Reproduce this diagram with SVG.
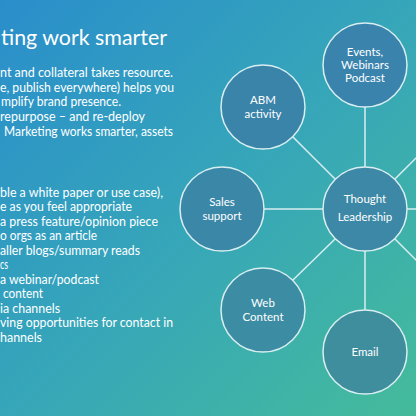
<svg xmlns="http://www.w3.org/2000/svg" width="416" height="416" viewBox="0 0 416 416">
<defs>
<linearGradient id="bg" x1="0" y1="0" x2="1" y2="1">
<stop offset="0" stop-color="#2a8ecb"/>
<stop offset="0.5" stop-color="#36a6b9"/>
<stop offset="1" stop-color="#45bb9b"/>
</linearGradient>
<style>
.body{font-family:Lato,"Noto Sans",sans-serif;font-size:12.8px;fill:#ffffff}
.title{font-family:Lato,"Noto Sans",sans-serif;font-size:22px;fill:#ffffff}
.node circle{stroke:#d8eef0;stroke-width:1.5}
.node text{font-family:Lato,"Noto Sans",sans-serif;font-size:11.5px;fill:#ffffff;text-anchor:middle}
.conn line{stroke:#d8eef0;stroke-width:1.5}
</style>
</defs>
<rect width="416" height="416" fill="url(#bg)"/>
<text class="title" x="1" y="45" textLength="166" lengthAdjust="spacingAndGlyphs">ting work smarter</text>
<g class="body">
<text x="0" y="77" textLength="173" lengthAdjust="spacingAndGlyphs">nt and collateral takes resource.</text>
<text x="0" y="91.5" textLength="174" lengthAdjust="spacingAndGlyphs">e, publish everywhere) helps you</text>
<text x="1" y="106" textLength="120" lengthAdjust="spacingAndGlyphs">mplify brand presence.</text>
<text x="0" y="120.5" textLength="145" lengthAdjust="spacingAndGlyphs">repurpose – and re-deploy</text>
<text x="4" y="135.5" textLength="169" lengthAdjust="spacingAndGlyphs">Marketing works smarter, assets</text>
<text x="0" y="196.5" textLength="163" lengthAdjust="spacingAndGlyphs">ble a white paper or use case),</text>
<text x="0" y="211" textLength="132" lengthAdjust="spacingAndGlyphs">e as you feel appropriate</text>
<text x="0" y="225.5" textLength="158" lengthAdjust="spacingAndGlyphs">a press feature/opinion piece</text>
<text x="0" y="240" textLength="97" lengthAdjust="spacingAndGlyphs">o orgs as an article</text>
<text x="0" y="254.5" textLength="140" lengthAdjust="spacingAndGlyphs">aller blogs/summary reads</text>
<text x="0" y="269" textLength="8" lengthAdjust="spacingAndGlyphs">cs</text>
<text x="0" y="283.5" textLength="99" lengthAdjust="spacingAndGlyphs">a webinar/podcast</text>
<text x="3" y="298" textLength="40" lengthAdjust="spacingAndGlyphs">content</text>
<text x="0" y="312.5" textLength="60" lengthAdjust="spacingAndGlyphs">ia channels</text>
<text x="0" y="327" textLength="173" lengthAdjust="spacingAndGlyphs">ving opportunities for contact in</text>
<text x="0" y="341.5" textLength="42" lengthAdjust="spacingAndGlyphs">hannels</text>
</g>
<g class="conn">
<line x1="365" y1="167" x2="365" y2="107"/>
<line x1="335.3" y1="179.3" x2="292.7" y2="136.7"/>
<line x1="323" y1="209" x2="264" y2="209"/>
<line x1="335.3" y1="238.7" x2="292.7" y2="280.3"/>
<line x1="365" y1="251" x2="365" y2="310"/>
<line x1="407" y1="209" x2="420" y2="209"/>
<line x1="394.7" y1="179.3" x2="420" y2="154"/>
<line x1="394.7" y1="238.7" x2="420" y2="264"/>
</g>
<g id="events" class="node"><circle cx="365" cy="65" r="42" fill="#3a83ad"/><text x="365" y="56">Events,</text><text x="365" y="69">Webinars</text><text x="365" y="82">Podcast</text></g>
<g id="abm" class="node"><circle cx="263" cy="107" r="42" fill="#3a84aa"/><text x="263" y="104">ABM</text><text x="263" y="118">activity</text></g>
<g id="sales" class="node"><circle cx="222" cy="209" r="42" fill="#3b87a8"/><text x="222" y="205.5">Sales</text><text x="222" y="219.5">support</text></g>
<g id="thought" class="node"><circle cx="365" cy="209" r="42" fill="#3c88a6"/><text x="365" y="203">Thought</text><text x="365" y="221">Leadership</text></g>
<g id="web" class="node"><circle cx="263" cy="310" r="42" fill="#3c8ca4"/><text x="263" y="307">Web</text><text x="263" y="320.5">Content</text></g>
<g id="email" class="node"><circle cx="365" cy="352" r="42" fill="#3e8e9e"/><text x="365" y="355.5">Email</text></g>
</svg>
